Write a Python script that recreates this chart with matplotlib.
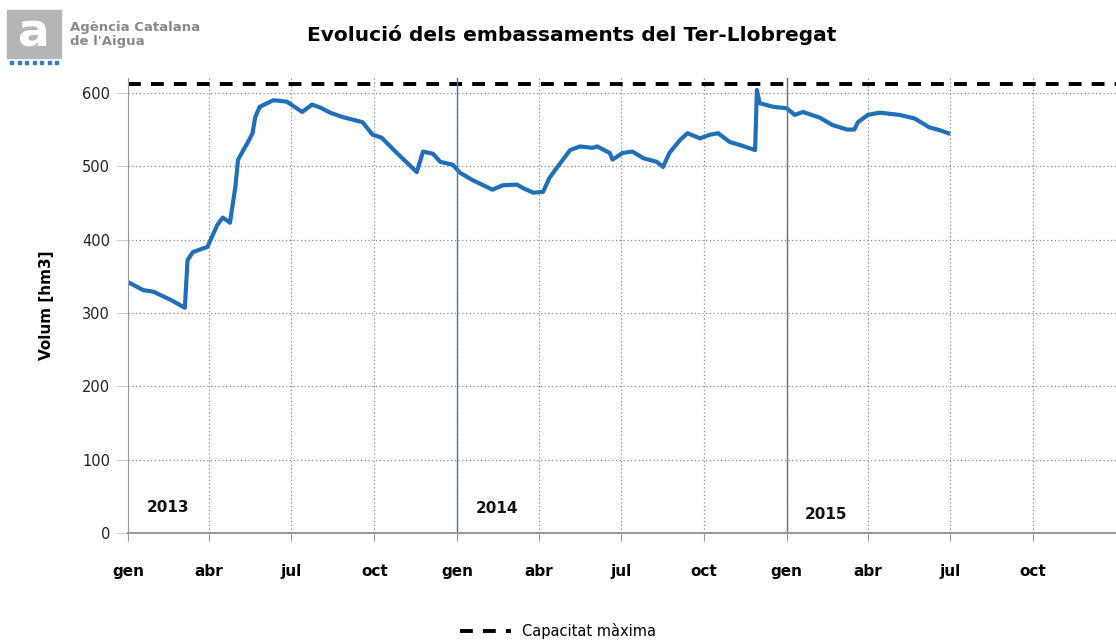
import pandas as pd
import matplotlib.pyplot as plt
from matplotlib.patches import Rectangle

# volum embassat Ter-Llobregat [hm3], llegit del grafic
dates = [
    "2013-01-01", "2013-01-18", "2013-01-29", "2013-02-17", "2013-03-05",
    "2013-03-08", "2013-03-14", "2013-03-30", "2013-04-10", "2013-04-16",
    "2013-04-24", "2013-04-30", "2013-05-03", "2013-05-08", "2013-05-14",
    "2013-05-19", "2013-05-22", "2013-05-27", "2013-06-11", "2013-06-26",
    "2013-07-13", "2013-07-24", "2013-08-02", "2013-08-13", "2013-08-27",
    "2013-09-18", "2013-09-29", "2013-10-09", "2013-10-26", "2013-11-17",
    "2013-11-24", "2013-12-05", "2013-12-13", "2013-12-27", "2014-01-04",
    "2014-01-18", "2014-02-09", "2014-02-20", "2014-03-08", "2014-03-15",
    "2014-03-26", "2014-04-06", "2014-04-13", "2014-04-25", "2014-05-06",
    "2014-05-17", "2014-05-31", "2014-06-05", "2014-06-19", "2014-06-22",
    "2014-07-03", "2014-07-14", "2014-07-26", "2014-08-10", "2014-08-17",
    "2014-08-24", "2014-09-05", "2014-09-13", "2014-09-27", "2014-10-08",
    "2014-10-17", "2014-10-30", "2014-11-10", "2014-11-27", "2014-11-29",
    "2014-12-02", "2014-12-17", "2015-01-01", "2015-01-10", "2015-01-19",
    "2015-02-07", "2015-02-21", "2015-03-09", "2015-03-17", "2015-03-21",
    "2015-04-01", "2015-04-14", "2015-05-06", "2015-05-23", "2015-06-08",
    "2015-06-20", "2015-06-29",
]
volum = [
    342, 331, 329, 318, 307,
    372, 383, 390, 420, 430,
    423, 472, 509, 520, 533,
    545, 567, 581, 590, 588,
    574, 584, 580, 573, 567,
    560, 543, 539, 518, 492,
    520, 517, 506, 502, 491,
    481, 468, 474, 475, 470,
    464, 465, 484, 504, 522,
    527, 525, 527, 518, 509,
    518, 520, 511, 506, 499,
    518, 536, 545, 538, 543,
    545, 533, 529, 522, 604,
    586, 581, 579, 570, 574,
    566, 556, 550, 550, 560,
    570, 573, 570, 565, 553,
    549, 545,
]
capacitat = 612

yticks = [0, 100, 200, 300, 400, 500, 600]
mesos = ["gen", "abr", "jul", "oct"]
anys = [2013, 2014, 2015]

df = pd.DataFrame({"data": pd.to_datetime(dates), "volum": volum})

fig = plt.figure(figsize=(11.16, 6.41), dpi=100)
ax = fig.add_axes([0.1147, 0.1685, 0.8853, 0.7095])

ax.plot(df["data"], df["volum"], color="#1f70b8", lw=3.0, solid_joinstyle="round")
x0 = pd.Timestamp("2013-01-01")
x1 = pd.Timestamp("2016-01-01")
ax.plot([x0, x1], [capacitat, capacitat], color="black", lw=2.8,
        dashes=(3.3, 2.6), label="Capacitat màxima")

ax.set_xlim(x0, x1)
ax.set_ylim(0, 620)
ax.set_yticks(yticks)

# ticks trimestrals
ticks = [pd.Timestamp(f"{a}-{m:02d}-01") for a in anys for m in (1, 4, 7, 10)]
ax.set_xticks(ticks)
ax.set_xticklabels([mesos[i % 4] for i in range(len(ticks))], fontweight="bold", fontsize=11)
ax.tick_params(axis="x", length=6, color="#999999", pad=16)
ax.tick_params(axis="y", length=9, color="#cccccc", labelsize=10.5, pad=4, labelcolor="#222222")

ax.grid(True, color="#8c8c8c", lw=0.9, dashes=(1, 2))
ax.set_axisbelow(True)

# linies de canvi d'any
for a in anys[1:]:
    ax.axvline(pd.Timestamp(f"{a}-01-01"), color="#4a7aa8", lw=1.0)

for s in ["top", "right"]:
    ax.spines[s].set_visible(False)
ax.spines["left"].set_color("#999999")
ax.spines["bottom"].set_color("#999999")
ax.spines["bottom"].set_linewidth(1.5)

# etiquetes d'any
year_pos = [("2013-02-14", 35), ("2014-02-14", 33), ("2015-02-14", 25)]
for a, (d, v) in zip(anys, year_pos):
    ax.text(pd.Timestamp(d), v, str(a), fontweight="bold", fontsize=11,
            ha="center", va="center", color="#111111")

ax.set_ylabel("Volum [hm3]", fontweight="bold", fontsize=11)
ax.yaxis.set_label_coords(-0.075, 0.5)

fig.text(0.512, 0.945, "Evolució dels embassaments del Ter-Llobregat",
         ha="center", va="center", fontweight="bold", fontsize=14.5)

# logo ACA
fig.patches.append(Rectangle((7 / 1116, 1 - 58 / 641), 54 / 1116, 48 / 641,
                             transform=fig.transFigure, color="#b5b5b5"))
fig.text(34 / 1116, 1 - 34 / 641, "a", color="white", fontsize=34, fontweight="bold",
         ha="center", va="center")
for i in range(7):
    fig.patches.append(Rectangle(((10 + i * 7.5) / 1116, 1 - 64 / 641), 3 / 1116, 3 / 641,
                                 transform=fig.transFigure, color="#2f7fc0"))
fig.text(70 / 1116, 1 - 28 / 641, "Agència Catalana", color="#8a8a8a",
         fontsize=9.5, fontweight="bold", va="center", ha="left")
fig.text(70 / 1116, 1 - 42 / 641, "de l'Aigua", color="#8a8a8a",
         fontsize=9.5, fontweight="bold", va="center", ha="left")

fig.legend(loc="lower center", bbox_to_anchor=(0.5, -0.018), frameon=False,
           fontsize=10.5, handlelength=3.5)

fig.savefig("out.png", dpi=100)
